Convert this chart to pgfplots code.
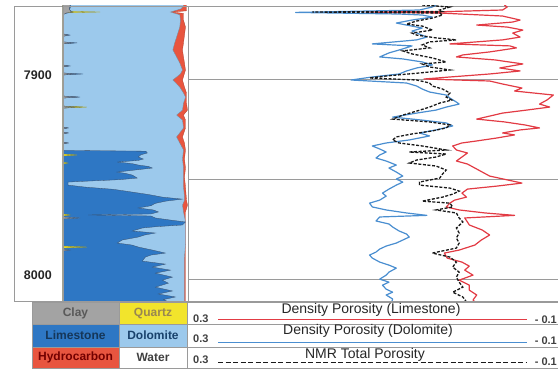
\documentclass[border=0pt]{standalone}
\usepackage{fontspec}
\setmainfont{Liberation Sans}
\usepackage{pgfplots}
\usepackage{pgfplotstable}
\pgfplotsset{compat=1.18}
\definecolor{dolo}{HTML}{9CC9EC}
\definecolor{limeb}{HTML}{2E77C4}
\definecolor{hcred}{HTML}{E8553F}
\definecolor{clay}{HTML}{A3A3A3}
\definecolor{qtz}{HTML}{F2E42C}
\definecolor{rline}{HTML}{E23B44}
\definecolor{bline}{HTML}{4A8ED0}
\definecolor{frame}{HTML}{9A9A9A}
\definecolor{edge}{HTML}{3C4E66}

% lithology boundaries: depth (ft), cumulative fraction
\pgfplotstableread{
d f
7862 0
7862 0.984
7866.0 0.984
7866.6 0.872
7867.3 0.96
7870.6 0.96
7874.1 0.976
7878.1 0.968
7882.0 0.96
7885.5 0.952
7889.0 0.96
7892.0 0.968
7895.5 0.976
7900.5 0.952
7904.0 0.968
7907.0 0.984
7912.0 0.984
7915.5 0.992
7918.0 0.96
7920.5 0.976
7924.4 0.976
7928.9 0.952
7931.9 0.968
7935.4 0.976
7939.9 0.968
7944.4 0.976
7948.9 0.968
7953.9 0.976
7960.4 0.984
7962.9 0.992
7966.3 0.976
8012 0.976
8012 0
}\cfive
\pgfplotstableread{
d f
7862 0
7862 0.96
7863.6 0.96
7865.0 0.94
7866.6 0.856
7868.0 0.93
7870.6 0.936
7874.1 0.93
7878.1 0.91
7882.0 0.89
7885.5 0.875
7889.0 0.905
7892.0 0.93
7895.5 0.952
7897.5 0.935
7900.5 0.875
7904.0 0.93
7907.0 0.96
7909.0 0.976
7912.0 0.96
7915.5 0.952
7918.0 0.905
7920.5 0.952
7924.4 0.96
7928.9 0.905
7931.9 0.93
7935.4 0.96
7939.9 0.952
7944.4 0.96
7949.0 0.96
7953.9 0.96
7958.9 0.968
7960.4 0.968
7962.9 0.952
7966.3 0.96
7971.3 0.976
7981.8 0.976
7988.8 0.968
8000.0 0.968
8012 0.968
8012 0
}\cfour
\pgfplotstableread{
d f
7862 0
7862 0.06
7864.1 0.06
7865.6 0.05
7866.6 0.08
7867.5 0
7877.5 0
7878.1 0.056
7878.7 0
7881.5 0
7882.0 0.112
7882.5 0
7893.0 0
7893.5 0.056
7894.0 0
7897.0 0
7897.5 0.16
7898.0 0
7908.5 0
7909.0 0.136
7909.5 0
7913.5 0
7914.0 0.15
7914.5 0
7924.0 0
7924.4 0.04
7924.8 0
7926.5 0
7926.9 0.04
7927.3 0
7931.5 0
7931.9 0.04
7932.3 0
7935.6 0
7936.0 0.66
7936.9 0.672
7937.8 0.62
7938.9 0.6
7939.9 0.64
7940.6 0.6
7941.4 0.432
7942.2 0.55
7942.9 0.6
7943.6 0.68
7944.4 0.712
7945.2 0.6
7946.4 0.432
7947.1 0.5
7947.9 0.552
7949.4 0.592
7950.2 0.45
7950.9 0.2
7951.4 0.04
7952.9 0.04
7953.9 0.176
7955.0 0.4
7956.4 0.552
7957.6 0.68
7958.9 0.792
7959.9 0.95
7960.9 0.82
7962.0 0.736
7963.2 0.7
7964.3 0.6
7965.3 0.72
7966.3 0.76
7967.3 0.7
7967.8 0.2
7968.3 0.7
7969.3 0.736
7970.3 0.85
7971.3 0.976
7972.8 0.952
7973.6 0.75
7974.3 0.632
7975.8 0.552
7976.8 0.736
7977.8 0.65
7978.8 0.6
7980.3 0.472
7981.8 0.432
7982.8 0.55
7983.8 0.6
7985.3 0.712
7986.8 0.816
7987.8 0.7
7988.8 0.656
7990.8 0.632
7992.3 0.816
7993.8 0.712
7995.3 0.856
7996.8 0.736
7998.8 0.872
8000.3 0.792
8001.8 0.84
8003.8 0.736
8005.7 0.872
8007.2 0.76
8008.7 0.896
8010.0 0.8
8012 0.872
8012 0
}\cthree
\pgfplotstableread{
d f
7862 0
7866.2 0
7866.6 0.296
7867.0 0
7913.5 0
7914.0 0.19
7914.5 0
7937.4 0
7937.9 0.112
7938.4 0
7941.4 0
7941.9 0.04
7942.4 0
7967.3 0
7967.8 0.056
7968.3 0
7983.3 0
7983.8 0.192
7984.3 0
8012 0
}\ctwo
\pgfplotstableread{
d f
7862 0
7862 0.06
7865.0 0.05
7866.3 0.06
7866.6 0.08
7867.0 0.03
7868.0 0
7877.5 0
7878.1 0.04
7878.7 0
7881.5 0
7882.0 0.08
7882.5 0
7893.0 0
7893.5 0.04
7894.0 0
7897.0 0
7897.5 0.1
7898.0 0
7908.5 0
7909.0 0.12
7909.5 0
7913.5 0
7914.0 0.1
7914.5 0
7924.0 0
7924.4 0.04
7924.8 0
7926.5 0
7926.9 0.04
7927.3 0
7931.5 0
7931.9 0.04
7932.3 0
7968.8 0
7969.3 0.136
7969.8 0
7984.8 0
7985.3 0.056
7985.8 0
8012 0
}\cone

% porosity curves: depth (ft), porosity (v/v)
\pgfplotstableread{
d p
7863.1 -0.042
7864.1 -0.045
7865.6 -0.040
7866.4 0.021
7866.6 0.108
7867.1 0.028
7868.6 -0.040
7870.6 -0.059
7871.6 -0.051
7873.1 -0.012
7874.1 -0.045
7875.6 -0.062
7877.1 -0.051
7879.1 -0.059
7880.5 -0.040
7882.5 0.017
7883.5 -0.048
7884.5 -0.055
7886.5 -0.026
7888.0 0.003
7889.0 0.010
7890.5 -0.032
7892.5 -0.062
7894.5 -0.037
7896.0 -0.059
7897.5 -0.026
7899.0 0.017
7900.0 0.045
7901.0 -0.026
7902.5 -0.040
7904.5 -0.061
7906.0 -0.053
7908.0 -0.095
7910.5 -0.088
7912.5 -0.080
7914.0 -0.091
7915.5 -0.066
7917.0 -0.040
7918.5 -0.026
7920.0 -0.012
7921.4 -0.042
7922.9 -0.064
7924.4 -0.080
7925.4 -0.059
7926.9 -0.040
7927.9 -0.053
7929.4 -0.034
7930.9 -0.012
7931.9 0.004
7933.4 0.014
7935.4 0.010
7936.9 -0.002
7938.9 0.004
7940.9 0.010
7942.4 -0.002
7944.4 -0.010
7946.4 -0.018
7948.4 -0.026
7950.4 -0.046
7951.9 -0.061
7953.4 -0.034
7954.9 -0.002
7956.9 0.004
7958.9 -0.001
7960.4 0.012
7961.9 0.017
7963.8 0.021
7965.3 0.007
7966.8 -0.021
7968.0 -0.053
7969.3 0.001
7971.3 -0.002
7972.8 -0.004
7975.3 -0.018
7977.8 -0.026
7980.3 -0.017
7982.8 -0.010
7985.3 0.007
7986.8 0.023
7989.3 0.020
7991.3 0.004
7993.3 -0.004
7995.3 0.001
7997.8 -0.008
8000.3 0.007
8002.8 -0.004
8005.3 -0.004
8007.7 -0.012
8010.2 -0.008
8011.2 -0.010
}\dphilime
\pgfplotstableread{
d p
7863.1 0.032
7864.1 0.036
7865.6 0.050
7866.8 0.184
7867.6 0.072
7868.1 0.047
7869.1 0.036
7870.6 0.058
7872.1 0.075
7873.1 0.064
7874.6 0.047
7876.1 0.058
7877.6 0.050
7879.1 0.042
7880.5 0.053
7882.5 0.101
7883.5 0.058
7885.0 0.068
7887.0 0.083
7889.0 0.093
7890.0 0.068
7891.5 0.047
7893.0 0.036
7894.5 0.053
7896.0 0.064
7897.5 0.072
7899.0 0.101
7900.5 0.124
7902.0 0.064
7903.5 0.053
7905.0 0.047
7906.5 0.039
7908.0 0.021
7909.5 0.017
7911.5 0.010
7912.5 0.007
7914.0 0.021
7915.5 0.032
7917.0 0.053
7919.0 0.079
7920.5 0.047
7921.9 0.021
7923.4 0.014
7925.4 0.032
7926.9 0.050
7928.4 0.039
7930.4 0.061
7931.9 0.086
7933.4 0.101
7934.9 0.093
7936.4 0.086
7937.9 0.093
7939.4 0.097
7940.9 0.086
7942.9 0.075
7944.4 0.083
7946.4 0.075
7948.4 0.068
7949.9 0.075
7951.4 0.068
7952.9 0.075
7954.9 0.083
7956.9 0.090
7958.4 0.086
7960.4 0.093
7961.9 0.104
7963.8 0.101
7965.3 0.086
7966.8 0.064
7968.0 0.042
7968.8 0.093
7970.8 0.097
7972.3 0.083
7973.8 0.079
7975.8 0.072
7977.3 0.064
7978.8 0.061
7980.3 0.068
7981.8 0.075
7983.3 0.086
7984.8 0.093
7986.3 0.097
7987.8 0.104
7989.3 0.101
7991.3 0.093
7992.8 0.083
7994.3 0.075
7996.3 0.083
7997.8 0.086
7999.8 0.093
8001.3 0.083
8002.8 0.090
8004.8 0.086
8006.3 0.079
8007.7 0.086
8009.7 0.079
8011.2 0.080
}\dphidolo
\pgfplotstableread{
d p
7863.1 0.047
7864.1 0.017
7865.6 0.028
7866.3 0.025
7866.6 0.166
7867.1 0.028
7868.1 0.025
7869.6 0.036
7871.1 0.053
7872.6 0.064
7873.6 0.047
7875.6 0.036
7877.1 0.058
7878.1 0.053
7879.5 0.032
7880.5 0.010
7881.5 0.039
7883.0 0.047
7884.5 0.039
7886.0 0.068
7887.5 0.058
7889.5 0.036
7891.5 0.021
7892.5 0.047
7894.0 0.039
7895.5 0.017
7897.0 0.050
7898.5 0.086
7899.5 0.104
7900.5 0.053
7902.0 0.039
7903.5 0.036
7905.0 0.025
7907.0 0.017
7909.0 0.021
7910.5 0.015
7912.0 0.028
7914.0 0.039
7916.0 0.053
7918.0 0.068
7920.0 0.079
7921.4 0.039
7922.9 0.017
7924.4 0.021
7925.9 0.036
7927.4 0.058
7928.9 0.075
7930.4 0.079
7931.9 0.072
7933.4 0.047
7935.4 0.021
7936.4 0.061
7937.4 0.021
7938.9 0.032
7940.4 0.053
7941.9 0.061
7943.4 0.032
7945.4 0.021
7947.4 0.025
7949.4 0.028
7951.4 0.050
7952.9 0.050
7954.4 0.017
7955.9 0.007
7957.4 0.014
7958.9 0.025
7960.9 0.047
7961.9 0.017
7963.8 0.014
7965.3 0.032
7966.8 0.010
7969.3 0.007
7971.3 0.003
7974.3 0.010
7976.8 0.007
7979.3 0.010
7981.8 0.007
7984.3 0.010
7986.8 0.036
7988.8 0.017
7991.3 0.010
7993.8 0.014
7996.3 0.007
7998.8 0.010
8001.3 0.007
8003.8 0.003
8006.3 0.014
8008.7 0.003
8011.2 -0.001
}\nmr

\begin{document}
\begin{tikzpicture}
\path[use as bounding box] (0pt,0pt) rectangle (558pt,369pt);
\draw[frame, line width=0.8pt] (14pt,68pt) rectangle (63pt,363pt);

% lithology track
\begin{axis}[at={(63pt,68pt)}, anchor=south west, scale only axis,
  width=125.5pt, height=295pt,
  xmin=0, xmax=1, ymin=7863.6, ymax=8010.7, y dir=reverse,
  xtick=\empty, ytick={7900,8000}, yticklabels={7900,8000},
  major tick length=0pt,
  yticklabel style={font=\fontsize{12.5}{14}\selectfont\bfseries, text=black!85,
    anchor=east, inner sep=0pt, xshift=-11pt, yshift=4pt},
  axis line style={frame, line width=0.8pt}, axis on top]
\addplot[fill=hcred, draw=hcred!75!black, line width=0.3pt] table[x=f,y=d] {\cfive} -- cycle;
\addplot[fill=dolo, draw=edge!70, line width=0.3pt] table[x=f,y=d] {\cfour} -- cycle;
\addplot[fill=limeb, draw=edge, line width=0.3pt] table[x=f,y=d] {\cthree} -- cycle;
\addplot[fill=qtz, draw=qtz!60!black, line width=0.3pt] table[x=f,y=d] {\ctwo} -- cycle;
\addplot[fill=clay, draw=edge, line width=0.3pt] table[x=f,y=d] {\cone} -- cycle;
\end{axis}

% porosity track
\begin{axis}[at={(188.5pt,68pt)}, anchor=south west, scale only axis,
  width=369.5pt, height=295pt,
  xmin=-0.1, xmax=0.3, x dir=reverse,
  ymin=7863.6, ymax=8010.7, y dir=reverse,
  xtick=\empty, ytick={7900,7950,8000}, yticklabels={},
  major tick length=0pt, ymajorgrids,
  grid style={frame, line width=0.8pt},
  axis line style={frame, line width=0.8pt}]
\addplot[rline, line width=1.2pt, line join=round] table[x=p,y=d] {\dphilime};
\addplot[bline, line width=1.2pt, line join=round] table[x=p,y=d] {\dphidolo};
\addplot[black!90, line width=1.3pt, dash pattern=on 3pt off 1.6pt] table[x=p,y=d] {\nmr};
\end{axis}

% legend / header table
\begin{scope}[x=1pt,y=1pt]
\fill[clay] (32,45) rectangle (119,67);
\fill[qtz] (119,45) rectangle (187,67);
\fill[limeb] (32,22) rectangle (119,45);
\fill[dolo] (119,22) rectangle (187,45);
\fill[hcred] (32,0.5) rectangle (119,22);
\draw[frame, line width=0.8pt] (32,0.5) rectangle (558,67);
\draw[frame, line width=0.8pt] (32,45) -- (558,45) (32,22) -- (558,22);
\draw[frame, line width=0.8pt] (119,0.5) -- (119,67) (187,0.5) -- (187,67);
\begin{scope}[every node/.style={font=\fontsize{12}{14}\selectfont\bfseries, inner sep=0pt}]
\node[text=black!65] at (75.5,56) {Clay};
\node[text=black!60!yellow!60!brown] at (153,56) {Quartz};
\node[text=limeb!45!black] at (75.5,34) {Limestone};
\node[text=limeb!55!black] at (153,34) {Dolomite};
\node[text=red!45!black] at (75.5,12) {Hydrocarbon};
\node[text=black!75] at (153,12) {Water};
\end{scope}
\begin{scope}[every node/.style={font=\fontsize{11}{12}\selectfont\bfseries, text=black!75, inner sep=0pt}]
\node[anchor=west] at (193,50) {0.3};
\node[anchor=west] at (193,30) {0.3};
\node[anchor=west] at (193,9) {0.3};
\node[anchor=east] at (557,49) {- 0.1};
\node[anchor=east] at (557,28) {- 0.1};
\node[anchor=east] at (557,7) {- 0.1};
\end{scope}
\draw[rline, line width=1pt] (218,49) -- (527,49);
\draw[bline, line width=1pt] (218,26) -- (527,26);
\draw[black!90, line width=1pt, dash pattern=on 5pt off 2.5pt] (218,6) -- (527,6);
\begin{scope}[every node/.style={font=\fontsize{14}{16}\selectfont, text=black!85, inner sep=0pt}]
\node at (371,59.5) {Density Porosity (Limestone)};
\node at (368,38) {Density Porosity (Dolomite)};
\node at (365,14.5) {NMR Total Porosity};
\end{scope}
\end{scope}
\end{tikzpicture}
\end{document}
